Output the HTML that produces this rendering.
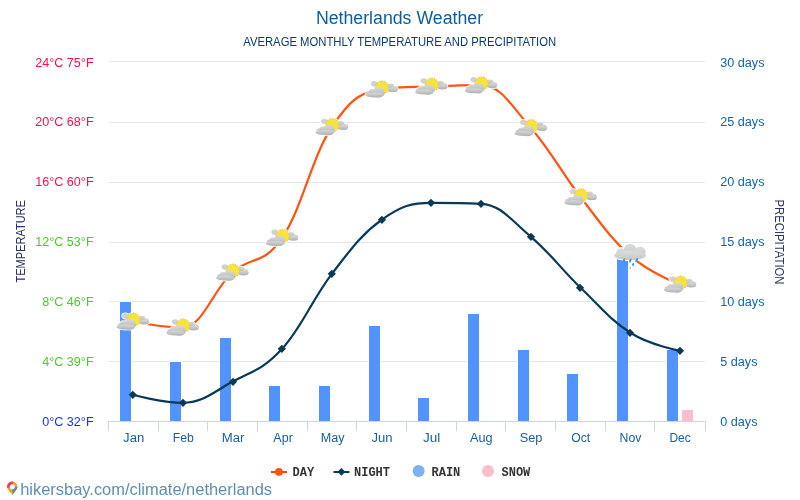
<!DOCTYPE html>
<html><head><meta charset="utf-8"><style>
html,body{margin:0;padding:0;background:#fff;}
svg{display:block;font-family:"Liberation Sans",sans-serif;will-change:transform;}
</style></head><body>
<svg width="800" height="500" viewBox="0 0 800 500">
<defs>
<linearGradient id="cg1" x1="0" y1="0" x2="0" y2="1"><stop offset="0" stop-color="#d8dada"/><stop offset="1" stop-color="#b0b2b2"/></linearGradient>
<linearGradient id="cg2" x1="0" y1="0" x2="0" y2="1"><stop offset="0" stop-color="#d8dada"/><stop offset="1" stop-color="#aeb0b0"/></linearGradient>
<linearGradient id="cg3" x1="0" y1="0" x2="0" y2="1"><stop offset="0" stop-color="#dcdedd"/><stop offset="1" stop-color="#c4c6c5"/></linearGradient>
<g id="psun">
  <g fill="#fff" stroke="#fff" stroke-width="1.6" opacity="0.9">
    <ellipse cx="-7.6" cy="-5.7" rx="3.2" ry="2.5"/><ellipse cx="-6.5" cy="-4.6" rx="3.4" ry="1.8"/>
    <circle cx="9" cy="-2" r="3.8"/><circle cx="13.1" cy="-0.2" r="3"/><ellipse cx="10.7" cy="0.6" rx="5.4" ry="2.4"/>
    <circle cx="0.5" cy="-1.8" r="7"/>
    <circle cx="-12.5" cy="4.2" r="2.8"/><circle cx="-9.5" cy="2.8" r="3.2"/><ellipse cx="-3" cy="3" rx="6" ry="5.3"/><ellipse cx="-7" cy="5.6" rx="9.4" ry="2.5"/>
  </g>
  <g fill="#cfd2d4"><ellipse cx="-7.6" cy="-5.7" rx="3.2" ry="2.5"/><ellipse cx="-6.5" cy="-4.6" rx="3.4" ry="1.8"/></g>
  <g fill="url(#cg2)"><circle cx="9" cy="-2" r="3.8"/><circle cx="13.1" cy="-0.2" r="3"/><ellipse cx="10.7" cy="0.6" rx="5.4" ry="2.4"/></g>
  <polygon points="0.50,-9.50 1.67,-7.68 3.45,-8.91 3.83,-6.79 5.94,-7.24 5.49,-5.13 7.61,-4.75 6.38,-2.97 8.20,-1.80 6.38,-0.63 7.61,1.15 5.49,1.53 5.94,3.64 3.83,3.19 3.45,5.31 1.67,4.08 0.50,5.90 -0.67,4.08 -2.45,5.31 -2.83,3.19 -4.94,3.64 -4.49,1.53 -6.61,1.15 -5.38,-0.63 -7.20,-1.80 -5.38,-2.97 -6.61,-4.75 -4.49,-5.13 -4.94,-7.24 -2.83,-6.79 -2.45,-8.91 -0.67,-7.68" fill="#f6c45a"/>
  <circle cx="0.5" cy="-1.8" r="6.2" fill="#f5e43a"/>
  <g fill="url(#cg1)"><circle cx="-12.5" cy="4.2" r="2.8"/><circle cx="-9.5" cy="2.8" r="3.2"/><ellipse cx="-3" cy="3" rx="6" ry="5.3"/><ellipse cx="-7" cy="5.6" rx="9.4" ry="2.5"/></g>
</g>
<g id="rainy"><g transform="translate(0.3,-1.3)">
  <g fill="#fff"><circle cx="-9.5" cy="-1" r="6.4"/><circle cx="-0.5" cy="-4.5" r="7.4"/><circle cx="9.5" cy="-2.5" r="6.7"/><ellipse cx="-0.5" cy="1" rx="17" ry="5.8"/></g>
  <g fill="url(#cg3)"><circle cx="-9.5" cy="-1" r="5.2"/><circle cx="-0.5" cy="-4.5" r="6.2"/><circle cx="9.5" cy="-2.5" r="5.5"/><ellipse cx="-0.5" cy="1" rx="15.8" ry="4.6"/></g>
  <g fill="#2e9ee8">
    <ellipse cx="-6.7" cy="5.8" rx="1.1" ry="2.1" transform="rotate(25 -6.7 5.8)"/>
    <ellipse cx="-0.4" cy="6.1" rx="1.1" ry="2.1" transform="rotate(25 -0.4 6.1)"/>
    <ellipse cx="6.1" cy="5.6" rx="1.1" ry="2.1" transform="rotate(25 6.1 5.6)"/>
    <ellipse cx="-3.9" cy="10" rx="0.9" ry="1.6" transform="rotate(25 -3.9 10)"/>
    <ellipse cx="2.4" cy="10" rx="0.9" ry="1.6" transform="rotate(25 2.4 10)"/>
    <ellipse cx="-0.4" cy="13.5" rx="0.7" ry="0.9" transform="rotate(25 -0.4 13.5)" fill="#6bbcf0"/>
  </g>
</g></g>
<g id="pin">
  <path d="M 0 8.3 C -2 5.5 -5.2 2.6 -5.2 0 A 5.2 5.2 0 1 1 5.2 0 C 5.2 2.6 2 5.5 0 8.3 Z" fill="#f5a02a"/>
  <path d="M 0 0 L -5.02 1.35 A 5.2 5.2 0 0 1 0.9 -5.12 Z" fill="#f2386a"/>
  <path d="M 0 0 L 5.2 0 C 5.2 2.6 2 5.5 0 8.3 Z" fill="#5b8fb2"/>
  <path d="M 0 8.3 L -1.9 5.9 L 0 5.2 Z" fill="#f6d42a"/>
  <circle cx="0" cy="0" r="2.5" fill="#fff"/>
</g>
</defs>
<rect width="800" height="500" fill="#fff"/>
<path d="M 109 61.5 L 705 61.5" stroke="#e6e6e6" stroke-width="1"/>
<path d="M 109 122.5 L 705 122.5" stroke="#e6e6e6" stroke-width="1"/>
<path d="M 109 182.5 L 705 182.5" stroke="#e6e6e6" stroke-width="1"/>
<path d="M 109 242.5 L 705 242.5" stroke="#e6e6e6" stroke-width="1"/>
<path d="M 109 301.5 L 705 301.5" stroke="#e6e6e6" stroke-width="1"/>
<path d="M 109 361.5 L 705 361.5" stroke="#e6e6e6" stroke-width="1"/>
<rect x="119.5" y="301.5" width="12" height="120.0" fill="#5393ff" stroke="#fff" stroke-width="1"/>
<rect x="169.5" y="361.5" width="12" height="60.0" fill="#5393ff" stroke="#fff" stroke-width="1"/>
<rect x="219.5" y="337.5" width="12" height="84.0" fill="#5393ff" stroke="#fff" stroke-width="1"/>
<rect x="268.5" y="385.5" width="12" height="36.0" fill="#5393ff" stroke="#fff" stroke-width="1"/>
<rect x="318.5" y="385.5" width="12" height="36.0" fill="#5393ff" stroke="#fff" stroke-width="1"/>
<rect x="368.5" y="325.5" width="12" height="96.0" fill="#5393ff" stroke="#fff" stroke-width="1"/>
<rect x="417.5" y="397.5" width="12" height="24.0" fill="#5393ff" stroke="#fff" stroke-width="1"/>
<rect x="467.5" y="313.5" width="12" height="108.0" fill="#5393ff" stroke="#fff" stroke-width="1"/>
<rect x="517.5" y="349.5" width="12" height="72.0" fill="#5393ff" stroke="#fff" stroke-width="1"/>
<rect x="566.5" y="373.5" width="12" height="48.0" fill="#5393ff" stroke="#fff" stroke-width="1"/>
<rect x="616.5" y="253.5" width="12" height="168.0" fill="#5393ff" stroke="#fff" stroke-width="1"/>
<rect x="666.5" y="349.5" width="12" height="72.0" fill="#5393ff" stroke="#fff" stroke-width="1"/>
<rect x="681.5" y="409.5" width="12" height="12.0" fill="#ffbccb" stroke="#fff" stroke-width="1"/>
<path d="M 108 421.5 L 706 421.5" stroke="#ccd6eb" stroke-width="1"/>
<path d="M 108.5 421 L 108.5 431" stroke="#ccd6eb" stroke-width="1"/>
<path d="M 158.5 421 L 158.5 431" stroke="#ccd6eb" stroke-width="1"/>
<path d="M 207.5 421 L 207.5 431" stroke="#ccd6eb" stroke-width="1"/>
<path d="M 257.5 421 L 257.5 431" stroke="#ccd6eb" stroke-width="1"/>
<path d="M 307.5 421 L 307.5 431" stroke="#ccd6eb" stroke-width="1"/>
<path d="M 356.5 421 L 356.5 431" stroke="#ccd6eb" stroke-width="1"/>
<path d="M 406.5 421 L 406.5 431" stroke="#ccd6eb" stroke-width="1"/>
<path d="M 456.5 421 L 456.5 431" stroke="#ccd6eb" stroke-width="1"/>
<path d="M 505.5 421 L 505.5 431" stroke="#ccd6eb" stroke-width="1"/>
<path d="M 555.5 421 L 555.5 431" stroke="#ccd6eb" stroke-width="1"/>
<path d="M 605.5 421 L 605.5 431" stroke="#ccd6eb" stroke-width="1"/>
<path d="M 654.5 421 L 654.5 431" stroke="#ccd6eb" stroke-width="1"/>
<path d="M 705.5 421 L 705.5 431" stroke="#ccd6eb" stroke-width="1"/>
<path d="M 132.88 394.80 C 132.88 394.80 162.72 402.80 182.62 402.80 C 202.53 402.80 212.47 392.60 232.38 381.80 C 252.28 371.00 262.23 370.40 282.12 348.80 C 302.02 327.20 311.98 299.60 331.88 273.80 C 351.77 248.00 361.73 234.00 381.62 219.80 C 401.52 205.60 411.48 202.80 431.38 202.80 C 451.27 202.80 461.23 202.80 481.12 203.80 C 501.02 204.80 510.98 220.00 530.88 236.80 C 550.77 253.60 560.73 268.60 580.62 287.80 C 600.52 307.00 610.48 320.20 630.38 332.80 C 650.27 345.40 680.12 350.80 680.12 350.80" fill="none" stroke="#083a55" stroke-width="2.2"/>
<path d="M 132.80 390.70 L 136.90 394.80 L 132.80 398.90 L 128.70 394.80 Z" fill="#083a55"/>
<path d="M 183.00 398.70 L 187.10 402.80 L 183.00 406.90 L 178.90 402.80 Z" fill="#083a55"/>
<path d="M 233.00 377.70 L 237.10 381.80 L 233.00 385.90 L 228.90 381.80 Z" fill="#083a55"/>
<path d="M 281.80 344.70 L 285.90 348.80 L 281.80 352.90 L 277.70 348.80 Z" fill="#083a55"/>
<path d="M 331.80 269.70 L 335.90 273.80 L 331.80 277.90 L 327.70 273.80 Z" fill="#083a55"/>
<path d="M 381.90 215.70 L 386.00 219.80 L 381.90 223.90 L 377.80 219.80 Z" fill="#083a55"/>
<path d="M 431.00 198.70 L 435.10 202.80 L 431.00 206.90 L 426.90 202.80 Z" fill="#083a55"/>
<path d="M 481.00 199.70 L 485.10 203.80 L 481.00 207.90 L 476.90 203.80 Z" fill="#083a55"/>
<path d="M 531.00 232.70 L 535.10 236.80 L 531.00 240.90 L 526.90 236.80 Z" fill="#083a55"/>
<path d="M 580.00 283.70 L 584.10 287.80 L 580.00 291.90 L 575.90 287.80 Z" fill="#083a55"/>
<path d="M 630.00 328.70 L 634.10 332.80 L 630.00 336.90 L 625.90 332.80 Z" fill="#083a55"/>
<path d="M 680.00 346.70 L 684.10 350.80 L 680.00 354.90 L 675.90 350.80 Z" fill="#083a55"/>
<path d="M 132.88 321.50 C 132.88 321.50 162.72 327.50 182.62 327.50 C 202.53 327.50 212.47 290.44 232.38 272.50 C 252.28 254.56 262.23 266.92 282.12 237.80 C 302.02 208.68 311.98 156.60 331.88 126.90 C 351.77 97.20 361.73 92.10 381.62 89.30 C 401.52 86.50 411.48 87.32 431.38 86.50 C 451.27 85.68 461.23 85.20 481.12 85.20 C 501.02 85.20 510.98 105.50 530.88 127.90 C 550.77 150.30 560.73 171.62 580.62 197.20 C 600.52 222.78 610.48 238.34 630.38 255.80 C 650.27 273.26 680.12 284.50 680.12 284.50" fill="none" stroke="#ff5511" stroke-width="2.2"/>
<use href="#psun" x="132.88" y="321.50"/>
<use href="#psun" x="182.62" y="327.50"/>
<use href="#psun" x="232.38" y="272.50"/>
<use href="#psun" x="282.12" y="237.80"/>
<use href="#psun" x="331.88" y="126.90"/>
<use href="#psun" x="381.62" y="89.30"/>
<use href="#psun" x="431.38" y="86.50"/>
<use href="#psun" x="481.12" y="85.20"/>
<use href="#psun" x="530.88" y="127.90"/>
<use href="#psun" x="580.62" y="197.20"/>
<use href="#rainy" x="630.38" y="255.80"/>
<use href="#psun" x="680.12" y="284.50"/>
<text x="93.6" y="425.9" text-anchor="end" font-size="13.4" textLength="51.38" lengthAdjust="spacingAndGlyphs" fill="#1432ff">0°C 32°F</text>
<text x="93.6" y="365.9" text-anchor="end" font-size="13.4" textLength="51.38" lengthAdjust="spacingAndGlyphs" fill="#50c832">4°C 39°F</text>
<text x="93.6" y="305.9" text-anchor="end" font-size="13.4" textLength="51.38" lengthAdjust="spacingAndGlyphs" fill="#50c832">8°C 46°F</text>
<text x="93.6" y="245.9" text-anchor="end" font-size="13.4" textLength="58.38" lengthAdjust="spacingAndGlyphs" fill="#50c832">12°C 53°F</text>
<text x="93.6" y="185.9" text-anchor="end" font-size="13.4" textLength="58.38" lengthAdjust="spacingAndGlyphs" fill="#f8104f">16°C 60°F</text>
<text x="93.6" y="125.9" text-anchor="end" font-size="13.4" textLength="58.38" lengthAdjust="spacingAndGlyphs" fill="#f8104f">20°C 68°F</text>
<text x="93.6" y="66.9" text-anchor="end" font-size="13.4" textLength="58.38" lengthAdjust="spacingAndGlyphs" fill="#f8104f">24°C 75°F</text>
<text x="720.2" y="425.9" font-size="13.4" textLength="37.31" lengthAdjust="spacingAndGlyphs" fill="#1464aa">0 days</text>
<text x="720.2" y="365.9" font-size="13.4" textLength="37.31" lengthAdjust="spacingAndGlyphs" fill="#1464aa">5 days</text>
<text x="720.2" y="305.9" font-size="13.4" textLength="44.35" lengthAdjust="spacingAndGlyphs" fill="#1464aa">10 days</text>
<text x="720.2" y="245.9" font-size="13.4" textLength="44.35" lengthAdjust="spacingAndGlyphs" fill="#1464aa">15 days</text>
<text x="720.2" y="185.9" font-size="13.4" textLength="44.35" lengthAdjust="spacingAndGlyphs" fill="#1464aa">20 days</text>
<text x="720.2" y="125.9" font-size="13.4" textLength="44.35" lengthAdjust="spacingAndGlyphs" fill="#1464aa">25 days</text>
<text x="720.2" y="66.7" font-size="13.4" textLength="44.35" lengthAdjust="spacingAndGlyphs" fill="#1464aa">30 days</text>
<text x="133.70" y="442" text-anchor="middle" font-size="12" textLength="21.18" lengthAdjust="spacingAndGlyphs" fill="#195fa0">Jan</text>
<text x="183.40" y="442" text-anchor="middle" font-size="12" textLength="21.09" lengthAdjust="spacingAndGlyphs" fill="#195fa0">Feb</text>
<text x="233.05" y="442" text-anchor="middle" font-size="12" textLength="22.63" lengthAdjust="spacingAndGlyphs" fill="#195fa0">Mar</text>
<text x="283.10" y="442" text-anchor="middle" font-size="12" textLength="19.46" lengthAdjust="spacingAndGlyphs" fill="#195fa0">Apr</text>
<text x="332.55" y="442" text-anchor="middle" font-size="12" textLength="23.75" lengthAdjust="spacingAndGlyphs" fill="#195fa0">May</text>
<text x="381.95" y="442" text-anchor="middle" font-size="12" textLength="21.08" lengthAdjust="spacingAndGlyphs" fill="#195fa0">Jun</text>
<text x="431.65" y="442" text-anchor="middle" font-size="12" textLength="17.28" lengthAdjust="spacingAndGlyphs" fill="#195fa0">Jul</text>
<text x="481.30" y="442" text-anchor="middle" font-size="12" textLength="22.57" lengthAdjust="spacingAndGlyphs" fill="#195fa0">Aug</text>
<text x="531.05" y="442" text-anchor="middle" font-size="12" textLength="22.74" lengthAdjust="spacingAndGlyphs" fill="#195fa0">Sep</text>
<text x="580.75" y="442" text-anchor="middle" font-size="12" textLength="18.96" lengthAdjust="spacingAndGlyphs" fill="#195fa0">Oct</text>
<text x="630.50" y="442" text-anchor="middle" font-size="12" textLength="21.85" lengthAdjust="spacingAndGlyphs" fill="#195fa0">Nov</text>
<text x="680.10" y="442" text-anchor="middle" font-size="12" textLength="21.34" lengthAdjust="spacingAndGlyphs" fill="#195fa0">Dec</text>
<text transform="translate(25 241.3) rotate(-90)" text-anchor="middle" font-size="12" textLength="82.5" lengthAdjust="spacingAndGlyphs" fill="#2d3262">TEMPERATURE</text>
<text transform="translate(775 242) rotate(90)" text-anchor="middle" font-size="12" textLength="85" lengthAdjust="spacingAndGlyphs" fill="#2d3262">PRECIPITATION</text>
<text x="399.5" y="23.6" text-anchor="middle" font-size="18" textLength="167.2" lengthAdjust="spacingAndGlyphs" fill="#0b5d9e">Netherlands Weather</text>
<text x="399.7" y="45.8" text-anchor="middle" font-size="12" textLength="313" lengthAdjust="spacingAndGlyphs" fill="#0d3a75">AVERAGE MONTHLY TEMPERATURE AND PRECIPITATION</text>
<path d="M 271 472 L 287 472" stroke="#ff4208" stroke-width="2"/><circle cx="278.9" cy="471.8" r="3.9" fill="#ff5008"/>
<text x="292.5" y="476" font-family="Liberation Mono, monospace" font-weight="bold" font-size="12" fill="#333">DAY</text>
<path d="M 333.5 472 L 349.5 472" stroke="#083a55" stroke-width="2"/><path d="M 341.4 467.9 L 345.3 471.8 L 341.4 475.7 L 337.5 471.8 Z" fill="#083a55"/>
<text x="354" y="476" font-family="Liberation Mono, monospace" font-weight="bold" font-size="12" fill="#333">NIGHT</text>
<circle cx="418.6" cy="471" r="6" fill="#7db1f2"/>
<text x="431.5" y="476" font-family="Liberation Mono, monospace" font-weight="bold" font-size="12" fill="#333">RAIN</text>
<circle cx="488" cy="471" r="6" fill="#ffbccb"/>
<text x="501.5" y="476" font-family="Liberation Mono, monospace" font-weight="bold" font-size="12" fill="#333">SNOW</text>
<text x="20.2" y="495.1" font-size="16" textLength="251.84" lengthAdjust="spacingAndGlyphs" fill="#5d8fb5">hikersbay.com/climate/netherlands</text>
<use href="#pin" x="12.3" y="486.7"/>
</svg>
</body></html>
